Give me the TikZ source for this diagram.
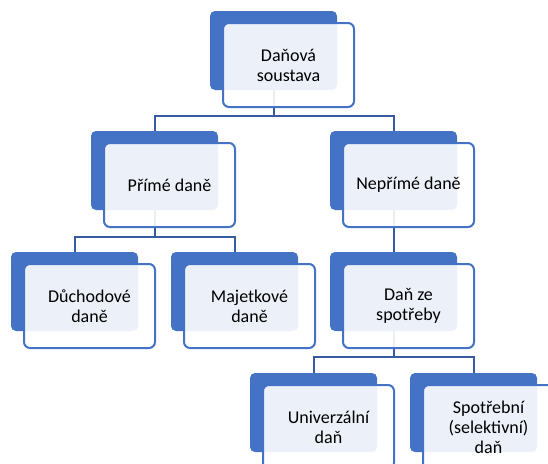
\documentclass[tikz,border=0pt]{standalone}
\usepackage{fontspec}
\setmainfont{Carlito}
\definecolor{accent}{RGB}{68,114,196}
\definecolor{linkcol}{RGB}{55,90,160}
\begin{document}
\begin{tikzpicture}[x=1pt,y=-1pt,
  backbox/.style={rectangle, rounded corners=5pt, fill=accent, draw=none,
    minimum width=127pt, minimum height=79pt, inner sep=0pt},
  frontbox/.style={rectangle, rounded corners=6pt, fill=white, fill opacity=0.9,
    text opacity=1, draw=accent, draw opacity=1, line width=2pt,
    minimum width=131pt, minimum height=84pt, inner sep=0pt, align=center,
    font=\fontsize{18}{20}\selectfont},
  link/.style={draw=linkcol, line width=2pt}]
\useasboundingbox (0,0) rectangle (548,463);
\clip (0,0) rectangle (548,463);
% back rectangles (top-left + (63.5,39.5))
\node[backbox] (topB)  at (273.5,50.5) {};
\node[backbox] (primB) at (154.5,170.5) {};
\node[backbox] (nepB)  at (393.5,170.5) {};
\node[backbox] (duchB) at (74.5,291.5) {};
\node[backbox] (majB)  at (234.5,291.5) {};
\node[backbox] (spotB) at (393.5,291.5) {};
\node[backbox] (univB) at (313.5,412.5) {};
\node[backbox] (selB)  at (473.5,412.5) {};
% junction points
\coordinate (j1) at (273.5,116);
\coordinate (j2) at (154.5,237);
\coordinate (j3) at (393.5,357);
% connectors
\path[link] (topB.south) -- (j1) -| (primB.north);
\path[link] (j1) -| (nepB.north);
\path[link] (primB.south) -- (j2) -| (duchB.north);
\path[link] (j2) -| (majB.north);
\path[link] (nepB.south) -- (spotB.north);
\path[link] (spotB.south) -- (j3) -| (univB.north);
\path[link] (j3) -| (selB.north);
% front boxes with text (top-left of back + (78.5,54))
\node[frontbox] (top)  at (288.5,65)  {Daňová\\soustava};
\node[frontbox] (prim) at (169.5,185) {Přímé daně};
\node[frontbox] (nep)  at (408.5,185) {Nepřímé daně};
\node[frontbox] (duch) at (89.5,306)  {Důchodové\\daně};
\node[frontbox] (maj)  at (249.5,306) {Majetkové\\daně};
\node[frontbox] (spot) at (408.5,306) {Daň ze\\spotřeby};
\node[frontbox] (univ) at (328.5,427) {Univerzální\\daň};
\node[frontbox] (sel)  at (488.5,427) {Spotřební\\(selektivní)\\daň};
\end{tikzpicture}
\end{document}
